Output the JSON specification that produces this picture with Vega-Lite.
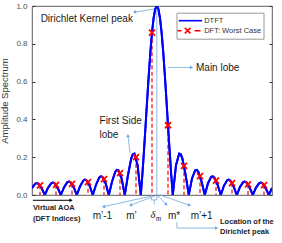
{
  "$schema": "https://vega.github.io/schema/vega-lite/v6.json",
  "width": 240,
  "height": 189,
  "autosize": {"type": "none"},
  "padding": {"left": 32, "top": 6, "right": 10, "bottom": 48},
  "background": "white",
  "config": {
    "view": {"stroke": "#333333", "strokeWidth": 0.8},
    "font": "Liberation Sans"
  },
  "datasets": {
    "dtft": [
      {"u": -0.5, "amp": 0.0368}, {"u": -0.3, "amp": 0.0596}, {"u": -0.2, "amp": 0.0628}, {"u": -0.1, "amp": 0.0599},
      {"u": 0.1, "amp": 0.0372}, {"u": 0.3, "amp": 0}, {"u": 0.5, "amp": 0.0378}, {"u": 0.7, "amp": 0.0618},
      {"u": 0.8, "amp": 0.0653}, {"u": 0.9, "amp": 0.0625}, {"u": 1.1, "amp": 0.0392}, {"u": 1.3, "amp": 0},
      {"u": 1.5, "amp": 0.0405}, {"u": 1.7, "amp": 0.0667}, {"u": 1.8, "amp": 0.0709}, {"u": 1.9, "amp": 0.0681},
      {"u": 2.1, "amp": 0.0431}, {"u": 2.3, "amp": 0}, {"u": 2.5, "amp": 0.0454}, {"u": 2.7, "amp": 0.0757},
      {"u": 2.8, "amp": 0.0809}, {"u": 2.9, "amp": 0.0782}, {"u": 3.1, "amp": 0.05}, {"u": 3.3, "amp": 0},
      {"u": 3.5, "amp": 0.0541}, {"u": 3.7, "amp": 0.0915}, {"u": 3.8, "amp": 0.0985}, {"u": 3.9, "amp": 0.096},
      {"u": 4.1, "amp": 0.0625}, {"u": 4.3, "amp": 0}, {"u": 4.5, "amp": 0.0703}, {"u": 4.7, "amp": 0.1217},
      {"u": 4.8, "amp": 0.1326}, {"u": 4.9, "amp": 0.1309}, {"u": 5.1, "amp": 0.0877}, {"u": 5.3, "amp": 0},
      {"u": 5.5, "amp": 0.1061}, {"u": 5.7, "amp": 0.1924}, {"u": 5.8, "amp": 0.2153}, {"u": 5.9, "amp": 0.219},
      {"u": 6.1, "amp": 0.1574}, {"u": 6.3, "amp": 0}, {"u": 6.4, "amp": 0.1099}, {"u": 6.5, "amp": 0.2348},
      {"u": 6.6, "amp": 0.369}, {"u": 6.7, "amp": 0.5057}, {"u": 6.8, "amp": 0.6376}, {"u": 6.9, "amp": 0.7576},
      {"u": 7.0, "amp": 0.8589}, {"u": 7.1, "amp": 0.9357}, {"u": 7.2, "amp": 0.9837}, {"u": 7.3, "amp": 1},
      {"u": 7.4, "amp": 0.9837}, {"u": 7.5, "amp": 0.9357}, {"u": 7.6, "amp": 0.8589}, {"u": 7.7, "amp": 0.7576},
      {"u": 7.8, "amp": 0.6376}, {"u": 7.9, "amp": 0.5057}, {"u": 8.0, "amp": 0.369}, {"u": 8.1, "amp": 0.2348},
      {"u": 8.2, "amp": 0.1099}, {"u": 8.3, "amp": 0}, {"u": 8.5, "amp": 0.1574}, {"u": 8.7, "amp": 0.219},
      {"u": 8.8, "amp": 0.2153}, {"u": 8.9, "amp": 0.1924}, {"u": 9.1, "amp": 0.1061}, {"u": 9.3, "amp": 0},
      {"u": 9.5, "amp": 0.0877}, {"u": 9.7, "amp": 0.1309}, {"u": 9.8, "amp": 0.1326}, {"u": 9.9, "amp": 0.1217},
      {"u": 10.1, "amp": 0.0703}, {"u": 10.3, "amp": 0}, {"u": 10.5, "amp": 0.0625}, {"u": 10.7, "amp": 0.096},
      {"u": 10.8, "amp": 0.0985}, {"u": 10.9, "amp": 0.0915}, {"u": 11.1, "amp": 0.0541}, {"u": 11.3, "amp": 0},
      {"u": 11.5, "amp": 0.05}, {"u": 11.7, "amp": 0.0782}, {"u": 11.8, "amp": 0.0809}, {"u": 11.9, "amp": 0.0757},
      {"u": 12.1, "amp": 0.0454}, {"u": 12.3, "amp": 0}, {"u": 12.5, "amp": 0.0431}, {"u": 12.7, "amp": 0.0681},
      {"u": 12.8, "amp": 0.0709}, {"u": 12.9, "amp": 0.0667}, {"u": 13.1, "amp": 0.0405}, {"u": 13.3, "amp": 0},
      {"u": 13.5, "amp": 0.0392}, {"u": 13.7, "amp": 0.0625}, {"u": 13.8, "amp": 0.0653}, {"u": 13.9, "amp": 0.0618},
      {"u": 14.1, "amp": 0.0378}, {"u": 14.3, "amp": 0}, {"u": 14.5, "amp": 0.0372}
    ],
    "dft": [
      {"u": 0, "amp": 0.051}, {"u": 1, "amp": 0.0535}, {"u": 2, "amp": 0.0586}, {"u": 3, "amp": 0.0676},
      {"u": 4, "amp": 0.0838}, {"u": 5, "amp": 0.1159}, {"u": 6, "amp": 0.2002}, {"u": 7, "amp": 0.8589},
      {"u": 8, "amp": 0.369}, {"u": 9, "amp": 0.1543}, {"u": 10, "amp": 0.1}, {"u": 11, "amp": 0.0761},
      {"u": 12, "amp": 0.0634}, {"u": 13, "amp": 0.0562}, {"u": 14, "amp": 0.0523}
    ],
    "segs": [
      {"u1": 7.3, "v1": -0.015, "u2": 7.3, "v2": 1},
      {"u1": 5.94, "v1": 0.968, "u2": 7.2, "v2": 0.985},
      {"u1": 8.0, "v1": 0.675, "u2": 9.44, "v2": 0.675},
      {"u1": 5.625, "v1": 0.222, "u2": 5.5, "v2": 0.312},
      {"u1": 7.0, "v1": -0.005, "u2": 4.0, "v2": -0.061},
      {"u1": 7.19, "v1": -0.005, "u2": 5.69, "v2": -0.053},
      {"u1": 7.375, "v1": -0.005, "u2": 7.875, "v2": -0.048},
      {"u1": 7.5, "v1": 0, "u2": 9.31, "v2": -0.053},
      {"u1": 6.97, "v1": -0.013, "u2": 6.97, "v2": -0.026},
      {"u1": 6.97, "v1": -0.026, "u2": 7.31, "v2": -0.026},
      {"u1": 7.31, "v1": -0.026, "u2": 7.31, "v2": -0.013},
      {"u1": 7.14, "v1": -0.026, "u2": 7.14, "v2": -0.05},
      {"u1": 8.56, "v1": -0.143, "u2": 8.56, "v2": -0.175},
      {"u1": 8.56, "v1": -0.175, "u2": 11.0, "v2": -0.175}
    ],
    "heads": [
      {"u": 5.94, "v": 0.968, "ang": 261.5},
      {"u": 9.44, "v": 0.675, "ang": 90},
      {"u": 5.5, "v": 0.312, "ang": 353},
      {"u": 4.0, "v": -0.061, "ang": 257.7},
      {"u": 5.69, "v": -0.053, "ang": 249.4},
      {"u": 7.875, "v": -0.048, "ang": 135},
      {"u": 9.31, "v": -0.053, "ang": 109},
      {"u": 11.0, "v": -0.175, "ang": 90}
    ],
    "blackarrow": [{"u1": -0.44, "v1": -0.028, "u2": 1.94, "v2": -0.028}],
    "notes": [
      {"u": 0.04, "v": 0.931, "t": "Dirichlet Kernel peak", "kind": "left"},
      {"u": 9.75, "v": 0.672, "t": "Main lobe", "kind": "left"},
      {"u": 3.72, "v": 0.389, "t": "First Side", "kind": "left"},
      {"u": 3.72, "v": 0.32, "t": "lobe", "kind": "left"},
      {"u": 3.9, "v": -0.111, "t": "m’-1", "kind": "center"},
      {"u": 5.72, "v": -0.111, "t": "m’", "kind": "center"},
      {"u": 8.375, "v": -0.111, "t": "m*", "kind": "center"},
      {"u": 10.1, "v": -0.111, "t": "m’+1", "kind": "center"},
      {"u": 7.06, "v": -0.108, "t": "δ", "kind": "delta"},
      {"u": 7.41, "v": -0.127, "t": "m", "kind": "sub"},
      {"u": -0.44, "v": -0.069, "t": "Virtual AOA", "kind": "bold"},
      {"u": -0.44, "v": -0.125, "t": "(DFT Indices)", "kind": "bold"},
      {"u": 11.25, "v": -0.143, "t": "Location of the", "kind": "bold"},
      {"u": 11.25, "v": -0.196, "t": "Dirichlet peak", "kind": "bold"}
    ]
  },
  "layer": [
    {
      "data": {"name": "dtft"},
      "mark": {"type": "line", "strokeWidth": 2, "clip": true},
      "encoding": {
        "x": {"field": "u", "type": "quantitative", "scale": {"domain": [-0.5, 14.5], "nice": false, "zero": false}, "axis": null},
        "y": {"field": "amp", "type": "quantitative", "scale": {"domain": [0, 1], "nice": false},
          "axis": {"orient": "left", "values": [0, 0.2, 0.4, 0.6, 0.8, 1], "title": "Amplitude Spectrum", "domain": false, "grid": false,
            "tickSize": -3, "tickColor": "#333333", "labelPadding": 8, "labelFontSize": 8, "labelColor": "#4d4d4d", "labelFont": "Liberation Sans",
            "titleFontSize": 9.5, "titleFontWeight": "normal", "titleColor": "#333333", "titleFont": "Liberation Sans", "titlePadding": 6}},
        "color": {"datum": "DTFT", "type": "nominal",
          "scale": {"domain": ["DTFT", "DFT: Worst Case"], "range": ["#0000ff", "#ff0000"]},
          "legend": {"orient": "none", "legendX": 144.5, "legendY": 6.7, "title": null, "direction": "vertical",
            "fillColor": "white", "strokeColor": "#999999", "padding": 1.5, "rowPadding": 0,
            "labelFontSize": 7.5, "labelFont": "Liberation Sans", "labelColor": "#333333", "labelOffset": 13.2,
            "symbolSize": 121, "symbolStrokeWidth": 1.6,
            "encode": {"symbols": {"update": {
              "shape": [
                {"test": "datum.value === 'DTFT'", "value": "M-1.04,0H3.2"},
                {"value": "M-1.27,0H-0.55M0.05,-0.5L1.09,0.5M0.05,0.5L1.09,-0.5M1.82,0H2.91"}
              ],
              "fill": {"value": "transparent"},
              "strokeDash": {"value": []}
            }}}}}
      }
    },
    {
      "data": {"name": "dft"},
      "mark": {"type": "rule", "strokeWidth": 1.2, "strokeDash": [4, 2.5]},
      "encoding": {
        "x": {"field": "u", "type": "quantitative"},
        "y": {"field": "amp", "type": "quantitative",
          "axis": {"orient": "right", "values": [0, 0.2, 0.4, 0.6, 0.8, 1], "labels": false, "title": null, "domain": false, "grid": false, "tickSize": -3, "tickColor": "#333333"}},
        "y2": {"datum": 0},
        "color": {"datum": "DFT: Worst Case", "type": "nominal"}
      }
    },
    {
      "data": {"name": "segs"},
      "mark": {"type": "rule", "color": "#6fa8dc", "strokeWidth": 0.8},
      "encoding": {
        "x": {"field": "u1", "type": "quantitative"},
        "y": {"field": "v1", "type": "quantitative", "axis": null},
        "x2": {"field": "u2"},
        "y2": {"field": "v2"}
      }
    },
    {
      "data": {"name": "heads"},
      "mark": {"type": "point", "shape": "triangle", "filled": true, "color": "#6fa8dc", "size": 14, "opacity": 1},
      "encoding": {
        "x": {"field": "u", "type": "quantitative"},
        "y": {"field": "v", "type": "quantitative", "axis": null},
        "angle": {"field": "ang", "type": "quantitative", "scale": null}
      }
    },
    {
      "data": {"name": "dtft"},
      "mark": {"type": "line", "strokeWidth": 2, "color": "#0000ff", "clip": true},
      "encoding": {
        "x": {"field": "u", "type": "quantitative"},
        "y": {"field": "amp", "type": "quantitative", "axis": null}
      }
    },
    {
      "data": {"name": "dft"},
      "mark": {"type": "point", "shape": "M-1,-1L1,1M-1,1L1,-1", "filled": false, "strokeWidth": 1.8, "size": 36, "opacity": 1},
      "encoding": {
        "x": {"field": "u", "type": "quantitative"},
        "y": {"field": "amp", "type": "quantitative", "axis": null},
        "color": {"datum": "DFT: Worst Case", "type": "nominal"}
      }
    },
    {
      "data": {"name": "blackarrow"},
      "layer": [
        {
          "mark": {"type": "rule", "color": "#000000", "strokeWidth": 1},
          "encoding": {
            "x": {"field": "u1", "type": "quantitative"},
            "y": {"field": "v1", "type": "quantitative", "axis": null},
            "x2": {"field": "u2"},
            "y2": {"field": "v2"}
          }
        },
        {
          "mark": {"type": "point", "shape": "triangle-right", "filled": true, "color": "#000000", "size": 14, "opacity": 1},
          "encoding": {
            "x": {"field": "u2", "type": "quantitative"},
            "y": {"field": "v2", "type": "quantitative", "axis": null}
          }
        }
      ]
    },
    {
      "data": {"name": "notes"},
      "transform": [{"filter": "datum.kind === 'left'"}],
      "mark": {"type": "text", "align": "left", "baseline": "middle", "fontSize": 10, "font": "Liberation Sans", "color": "#1a1a1a"},
      "encoding": {
        "x": {"field": "u", "type": "quantitative"},
        "y": {"field": "v", "type": "quantitative", "axis": null},
        "text": {"field": "t"}
      }
    },
    {
      "data": {"name": "notes"},
      "transform": [{"filter": "datum.kind === 'center'"}],
      "mark": {"type": "text", "align": "center", "baseline": "middle", "fontSize": 10, "font": "Liberation Sans", "color": "#1a1a1a"},
      "encoding": {
        "x": {"field": "u", "type": "quantitative"},
        "y": {"field": "v", "type": "quantitative", "axis": null},
        "text": {"field": "t"}
      }
    },
    {
      "data": {"name": "notes"},
      "transform": [{"filter": "datum.kind === 'delta'"}],
      "mark": {"type": "text", "align": "center", "baseline": "middle", "fontSize": 10.5, "font": "Liberation Serif", "fontStyle": "italic", "color": "#1a1a1a"},
      "encoding": {
        "x": {"field": "u", "type": "quantitative"},
        "y": {"field": "v", "type": "quantitative", "axis": null},
        "text": {"field": "t"}
      }
    },
    {
      "data": {"name": "notes"},
      "transform": [{"filter": "datum.kind === 'sub'"}],
      "mark": {"type": "text", "align": "center", "baseline": "middle", "fontSize": 7.5, "font": "Liberation Serif", "fontStyle": "italic", "color": "#1a1a1a"},
      "encoding": {
        "x": {"field": "u", "type": "quantitative"},
        "y": {"field": "v", "type": "quantitative", "axis": null},
        "text": {"field": "t"}
      }
    },
    {
      "data": {"name": "notes"},
      "transform": [{"filter": "datum.kind === 'bold'"}],
      "mark": {"type": "text", "align": "left", "baseline": "middle", "fontSize": 7.5, "fontWeight": "bold", "font": "Liberation Sans", "color": "#222222"},
      "encoding": {
        "x": {"field": "u", "type": "quantitative"},
        "y": {"field": "v", "type": "quantitative", "axis": null},
        "text": {"field": "t"}
      }
    }
  ],
  "resolve": {"axis": {"y": "independent"}}
}
